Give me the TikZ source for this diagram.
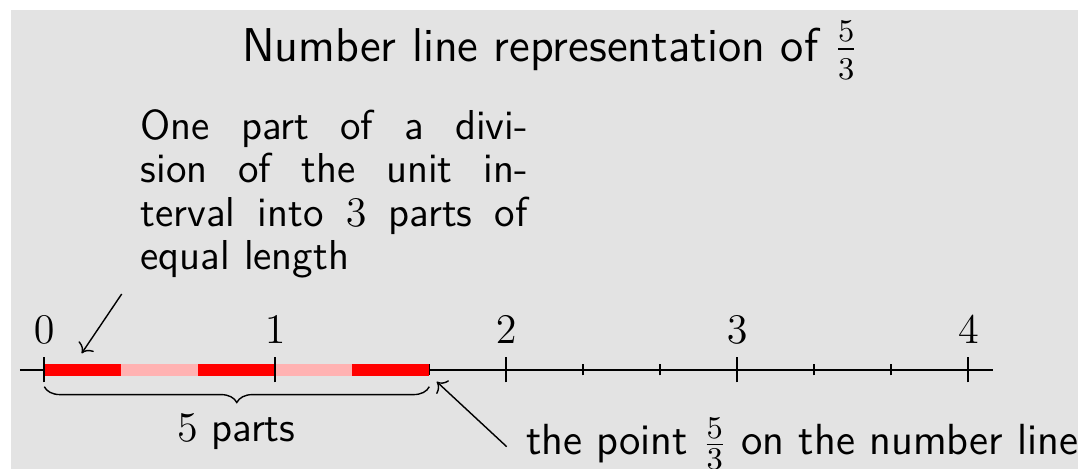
\documentclass[tikz,border=0pt]{standalone}
\usepackage{amsmath}
\usetikzlibrary{arrows.meta, positioning, decorations.pathreplacing, calc}
\definecolor{slidegray}{RGB}{227,227,227}

\begin{document}
\begin{tikzpicture}[
    font=\sffamily\fontsize{11.9}{12.3}\selectfont,
    title/.style={font=\sffamily\fontsize{13.5}{16}\selectfont},
    dark part/.style={red, line width=3.4pt},
    light part/.style={red!30, line width=3.4pt},
    major tick/.style={line width=0.5pt},
    minor tick/.style={line width=0.5pt},
    digit/.style={inner sep=0pt},
    pointer/.style={->, line width=0.4pt}
]
    % Hintergrund
    \useasboundingbox (-0.443, -0.99) rectangle (10.337, 3.70);
    \fill[slidegray] (-0.333, -0.99) rectangle (10.337, 3.60);

    % Titel
    \node[title, anchor=base] (title) at (5.06, 3.083) {Number line representation of $\frac{5}{3}$};

    % Zahlenstrahl
    \draw[line width=0.5pt] (-0.243, 0) -- (9.49, 0);
    \foreach \k in {4,5,7,8,10,11}
        \draw[minor tick] (\k*0.77, -0.055) -- (\k*0.77, 0.055);
    \foreach \a/\s in {0/dark part, 1/light part, 2/dark part, 3/light part, 4/dark part}
        \draw[\s] (\a*0.77, 0) -- ({(\a+1)*0.77}, 0);
    \foreach \i in {0,...,4} {
        \draw[major tick] (\i*2.31, -0.125) -- (\i*2.31, 0.125);
        \node[digit] (n\i) at (\i*2.31, 0.40) {$\i$};
    }

    % Klammer unter den 5 Teilen
    \coordinate (barstart) at (0, -0.167);
    \coordinate (barend) at (3.85, -0.167);
    \draw[decorate, decoration={brace, mirror, amplitude=4.5pt}] (barstart) -- (barend);
    \node[anchor=base] (parts) at (1.92, -0.718) {$5$ parts};

    % Erklaerungen
    \node[text width=3.87cm, inner sep=0pt, anchor=north west] (division) at (0.957, 2.61)
        {\hbox to 3.87cm{One\hfill part\hfill of\hfill a\hfill divi-}
         \hbox to 3.87cm{sion\hfill of\hfill the\hfill unit\hfill in-}
         \hbox to 3.87cm{terval\hfill into\hfill $3$\hfill parts\hfill of}
         \hbox to 3.87cm{equal length\hfill}};
    \node[anchor=base west, inner sep=0pt, font=\sffamily\fontsize{12.4}{14}\selectfont] (pointtext) at (4.81, -0.85)
        {the point $\frac{5}{3}$ on the number line};

    \coordinate (divtail) at (0.774, 0.76);
    \coordinate (divtip) at (0.374, 0.167);
    \draw[pointer] (divtail) -- (divtip);
    \coordinate (pointtail) at (4.624, -0.767);
    \coordinate (pointtip) at (3.924, -0.117);
    \draw[pointer] (pointtail) -- (pointtip);
\end{tikzpicture}
\end{document}
